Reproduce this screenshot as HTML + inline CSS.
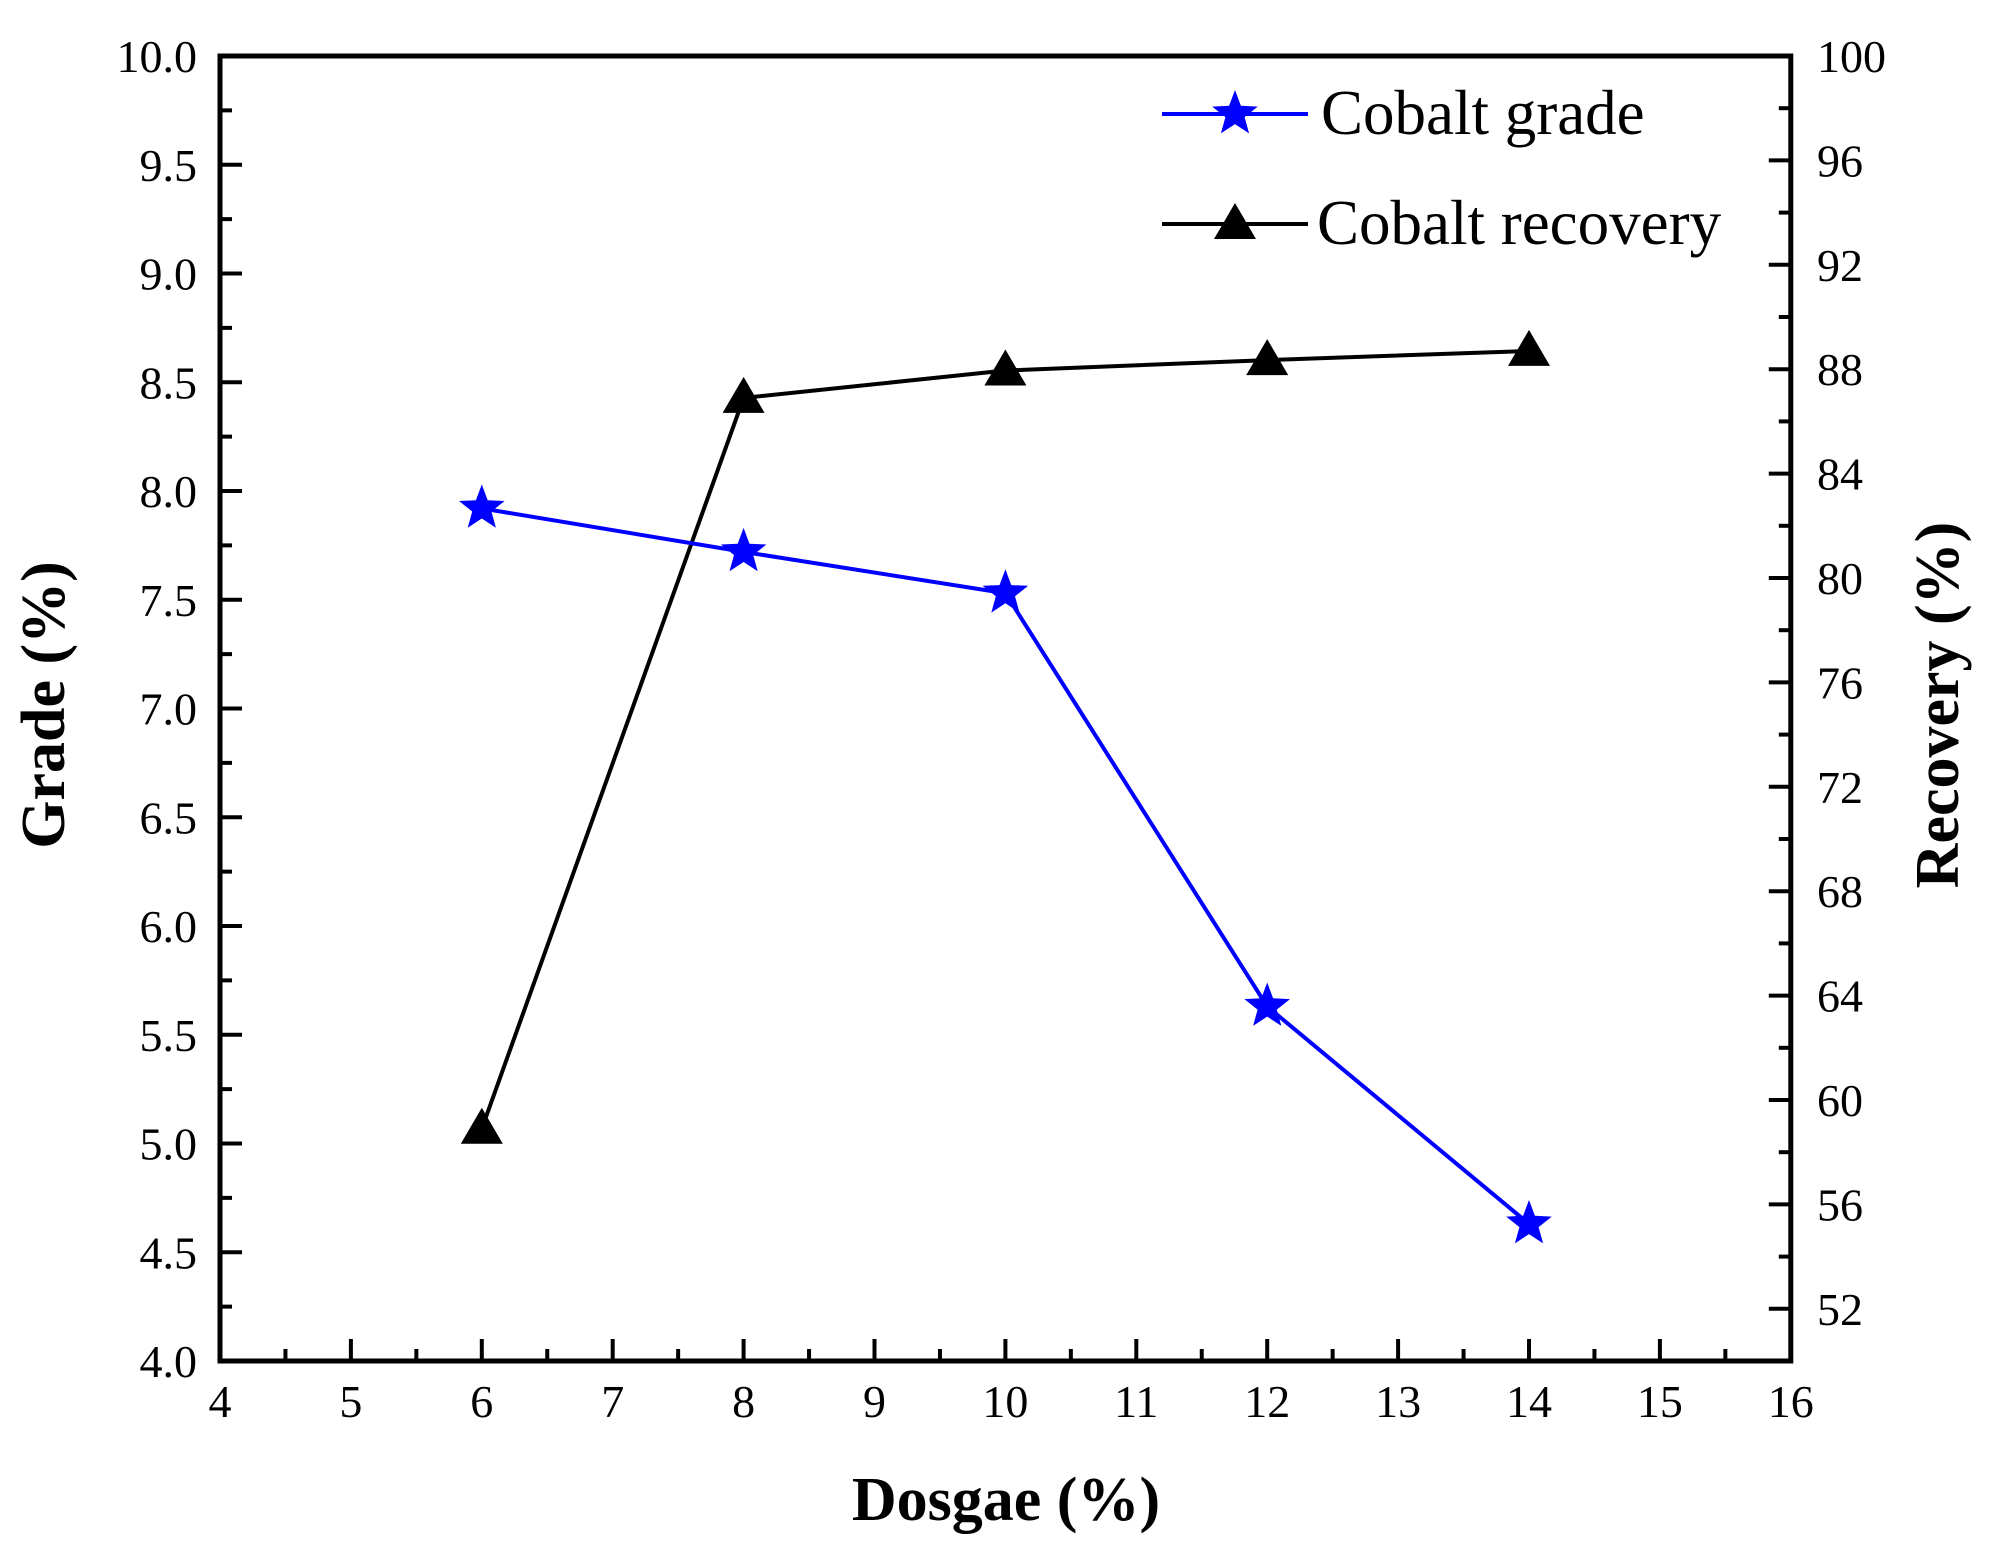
<!DOCTYPE html><html><head><style>body{margin:0;background:#fff}svg{display:block}text{font-family:"Liberation Serif",serif}</style></head><body>
<svg id="s" width="1991" height="1553" xmlns="http://www.w3.org/2000/svg"></svg>
<script>
const s=document.getElementById('s');let h='';
const B=1361,T=56;
const X=v=>220+(v-4)*130.9, G=g=>B-(g-4)*(B-T)/6, R=r=>B-(r-50)*(B-T)/50;
h+=`<rect x="220" y="${T}" width="1570.8" height="${B-T}" fill="none" stroke="#000" stroke-width="5"/>`;
for(let v=4;v<=16;v+=0.5){const x=X(v),L=(v%1==0)?22:12;h+=`<line x1="${x}" y1="${B}" x2="${x}" y2="${B-L}" stroke="#000" stroke-width="4"/>`;if(v%1==0)h+=`<text x="${x}" y="${B+56}" font-size="46" text-anchor="middle">${v}</text>`;}
for(let g=4;g<=10.001;g+=0.25){const y=G(g),maj=Math.abs(g*2-Math.round(g*2))<1e-6,L=maj?22:12;h+=`<line x1="220" y1="${y}" x2="${220+L}" y2="${y}" stroke="#000" stroke-width="4"/>`;if(maj)h+=`<text x="197" y="${y+16}" font-size="46" text-anchor="end">${g.toFixed(1)}</text>`;}
for(let r=50;r<=100;r+=2){const y=R(r),maj=(r%4==0),L=maj?22:12;h+=`<line x1="1790.8" y1="${y}" x2="${1790.8-L}" y2="${y}" stroke="#000" stroke-width="4"/>`;if(maj&&r>50)h+=`<text x="1817" y="${y+16}" font-size="46">${r}</text>`;}
const gd=[[6,7.92],[8,7.72],[10,7.53],[12,5.63],[14,4.63]].map(p=>[X(p[0]),G(p[1])]);
const rc=[[6,58.9],[8,86.9],[10,87.95],[12,88.35],[14,88.7]].map(p=>[X(p[0]),R(p[1])]);
const star=(x,y,r)=>{let p=[];for(let i=0;i<10;i++){const a=-Math.PI/2+i*Math.PI/5,rr=i%2?r*0.42:r;p.push((x+rr*Math.cos(a)).toFixed(1)+','+(y+rr*Math.sin(a)).toFixed(1));}return `<polygon points="${p.join(' ')}" fill="#0000ff"/>`;};
const tri=(x,y)=>`<polygon points="${x},${y-21} ${x-21},${y+15} ${x+21},${y+15}" fill="#000"/>`;
h+=`<polyline points="${rc.map(p=>p.join(',')).join(' ')}" fill="none" stroke="#000" stroke-width="4"/>`;
h+=`<polyline points="${gd.map(p=>p.join(',')).join(' ')}" fill="none" stroke="#0000ff" stroke-width="4"/>`;
rc.forEach(p=>h+=tri(p[0],p[1]));gd.forEach(p=>h+=star(p[0],p[1],24));
h+=`<line x1="1162" y1="114" x2="1308" y2="114" stroke="#0000ff" stroke-width="4"/>`+star(1235,114,24);
h+=`<text x="1321" y="134" font-size="63">Cobalt grade</text>`;
h+=`<line x1="1162" y1="224" x2="1308" y2="224" stroke="#000" stroke-width="4"/>`+tri(1235,224);
h+=`<text x="1317" y="244" font-size="63">Cobalt recovery</text>`;
h+=`<text x="1006" y="1520" font-size="62" font-weight="bold" text-anchor="middle">Dosgae (%)</text>`;
h+=`<text transform="translate(64,705) rotate(-90)" font-size="62" font-weight="bold" text-anchor="middle">Grade (%)</text>`;
h+=`<text transform="translate(1958,705) rotate(-90)" font-size="62" font-weight="bold" text-anchor="middle">Recovery (%)</text>`;
s.innerHTML=h;
</script></body></html>
